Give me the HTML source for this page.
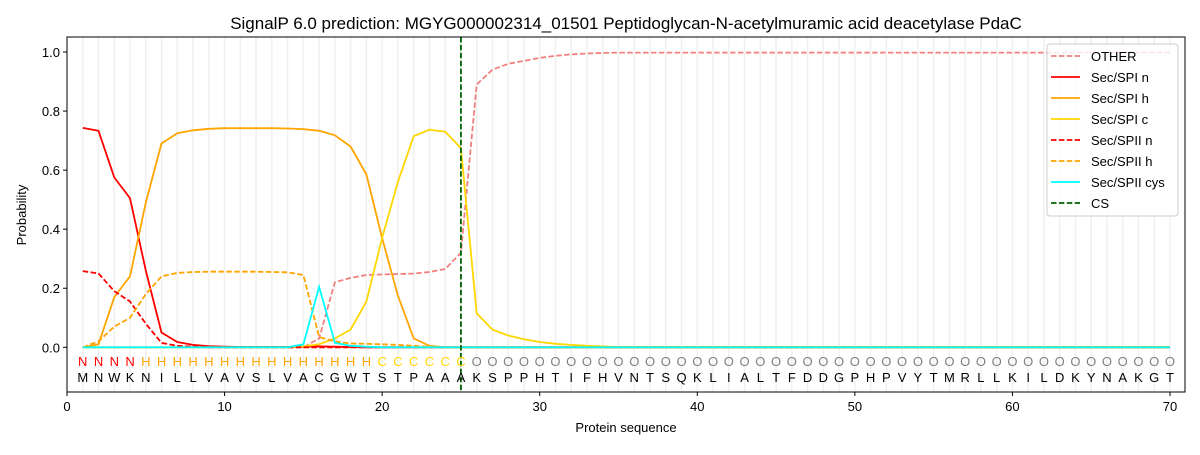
<!DOCTYPE html>
<html><head><meta charset="utf-8"><style>
body{margin:0;background:#fff;}
svg text{font-family:"Liberation Sans","DejaVu Sans",sans-serif;}
</style></head><body>
<svg id="s" width="1200" height="450" xmlns="http://www.w3.org/2000/svg">
<text x="626" y="29" font-size="17" text-anchor="middle">SignalP 6.0 prediction: MGYG000002314_01501 Peptidoglycan-N-acetylmuramic acid deacetylase PdaC</text>
<g id="grid"></g>
<g id="lines"></g>
<rect x="67" y="37" width="1118" height="355" fill="none" stroke="#000" stroke-width="1"/>
<g id="ticks" font-size="13"></g>
<text x="626" y="432" font-size="13" text-anchor="middle">Protein sequence</text>
<text transform="translate(26,215) rotate(-90)" font-size="13" text-anchor="middle">Probability</text>
<g id="leg"></g>
</svg>
<script>
var X=function(i){return 67+i*15.757;},Y=function(p){return 347.3-p*295.3;};
var ns="http://www.w3.org/2000/svg";
function el(t,a,p,txt){var e=document.createElementNS(ns,t);for(var k in a)e.setAttribute(k,a[k]);if(txt!=null)e.textContent=txt;document.getElementById(p).appendChild(e);return e;}
var seq="MNWKNILLVAVSLVACGWTSTPAAAKSPPHTIFHVNTSQKLIALTFDDGPHPVYTMRLLKILDKYNAKGT";
for(var i=1;i<=70;i++){el("line",{x1:X(i),x2:X(i),y1:37,y2:392,stroke:"#f0f0f0","stroke-width":1.5},"grid");
var lab,c;if(i<=4){lab="N";c="#ff0000";}else if(i<=19){lab="H";c="#ffa500";}else if(i<=25){lab="C";c="#ffd700";}else{lab="O";c="#808080";}
el("text",{x:X(i),y:366,"font-size":13,"text-anchor":"middle",fill:c},"ticks",lab);
el("text",{x:X(i),y:382,"font-size":13,"text-anchor":"middle",fill:"#000"},"ticks",seq[i-1]);}
for(var t=0;t<=70;t+=10){el("line",{x1:X(t),x2:X(t),y1:392,y2:396,stroke:"#000"},"ticks");el("text",{x:X(t),y:411,"text-anchor":"middle"},"ticks",t);}
for(var t=0;t<=5;t++){var p=t*0.2;el("line",{x1:63,x2:67,y1:Y(p),y2:Y(p),stroke:"#000"},"ticks");el("text",{x:60,y:Y(p)+5,"text-anchor":"end"},"ticks",p.toFixed(1));}
function fill(a){while(a.length<70)a.push(a[a.length-1]);return a;}
var Z=function(n){var a=[];for(var i=0;i<n;i++)a.push(0);return a;};
var other=fill(Z(15).concat([0.03,0.22,0.235,0.245,0.247,0.248,0.25,0.255,0.265,0.32,0.89,0.94,0.96,0.97,0.98,0.987,0.992,0.995,0.997,0.998]));
var n1=fill([0.743,0.733,0.575,0.505,0.26,0.05,0.018,0.008,0.004,0.002,0.001,0.001,0.001,0.001,0.002,0.003,0.002,0.001,0]);
var h1=fill([0,0.01,0.17,0.24,0.49,0.69,0.725,0.735,0.74,0.742,0.742,0.742,0.742,0.741,0.739,0.733,0.718,0.68,0.585,0.37,0.175,0.03,0.005,0]);
var c1=fill(Z(14).concat([0.003,0.01,0.03,0.06,0.155,0.37,0.56,0.715,0.737,0.73,0.675,0.115,0.06,0.04,0.027,0.018,0.012,0.008,0.005,0.003,0.001]));
var n2=fill([0.258,0.25,0.19,0.155,0.08,0.015,0.005,0.002,0]);
var h2=fill([0,0.02,0.07,0.1,0.18,0.24,0.252,0.255,0.256,0.256,0.256,0.256,0.255,0.254,0.245,0.035,0.02,0.013,0.012,0.01,0.008,0.005,0.002,0]);
var cy=fill(Z(14).concat([0.01,0.205,0.015,0.005,0.002,0]));
var S=[[other,"#f08080",1],[n1,"#ff0000",0],[h1,"#ffa500",0],[c1,"#ffd700",0],[n2,"#ff0000",1],[h2,"#ffa500",1],[cy,"#00ffff",0]];
S.forEach(function(s){var pts=s[0].map(function(v,i){return X(i+1).toFixed(1)+","+Y(v).toFixed(1);}).join(" ");
var a={points:pts,fill:"none",stroke:s[1],"stroke-width":1.8};if(s[2])a["stroke-dasharray"]="5.5,2.4";el("polyline",a,"lines");});
el("line",{x1:X(25),x2:X(25),y1:37,y2:392,stroke:"#006400","stroke-width":1.8,"stroke-dasharray":"5.5,2.4"},"lines");
el("rect",{x:1047,y:44,width:131,height:172,rx:3,fill:"#fff","fill-opacity":0.8,stroke:"#cccccc"},"leg");
var L=[["OTHER","#f08080",1],["Sec/SPI n","#ff0000",0],["Sec/SPI h","#ffa500",0],["Sec/SPI c","#ffd700",0],["Sec/SPII n","#ff0000",1],["Sec/SPII h","#ffa500",1],["Sec/SPII cys","#00ffff",0],["CS","#006400",1]];
L.forEach(function(l,k){var y=56+k*21;var a={x1:1051,x2:1080,y1:y,y2:y,stroke:l[1],"stroke-width":1.8};if(l[2])a["stroke-dasharray"]="5.5,2.4";el("line",a,"leg");
el("text",{x:1091,y:y+5,"font-size":13},"leg",l[0]);});
</script>
</body></html>
